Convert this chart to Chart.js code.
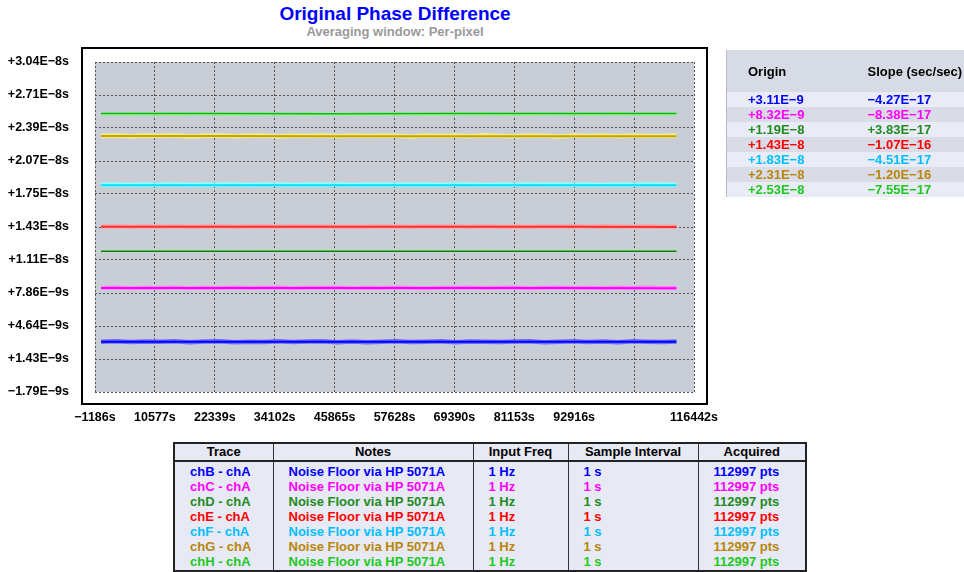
<!DOCTYPE html>
<html>
<head>
<meta charset="utf-8">
<script src="https://cdn.jsdelivr.net/npm/chart.js@4/dist/chart.umd.min.js"></script>
<style>
  body { margin: 0; background: #fff; width: 964px; height: 572px; overflow: hidden; position: relative;
         font-family: "Liberation Sans", Arial, sans-serif; font-weight: bold; font-size: 13px; }
  #title { position: absolute; left: 0; width: 790px; top: 3px; text-align: center; color: #0000ff; font-size: 19px; }
  #subtitle { position: absolute; left: 0; width: 790px; top: 24px; text-align: center; color: #999; font-size: 13px; }
  #plot { position: absolute; left: 0; top: 0; }
  #fit { position: absolute; left: 726px; top: 50px; width: 238px; border-collapse: collapse; table-layout: fixed;
         border-left: 1px solid #b8bcc6; }
  #fit td { padding: 0; height: 15px; line-height: 15px; white-space: nowrap; }
  #fit tr.head td { height: 42px; background: #d7dbe5; color: #000; }
  #fit tr:nth-child(even) td { background: #e9ecf6; }
  #fit tr:nth-child(odd):not(.head) td { background: #d9dce7; }
  #info { position: absolute; left: 173px; top: 442px; width: 632px; border-collapse: collapse; table-layout: fixed;
          background: #e7e9f4; border: 2px solid #222; }
  #info th { height: 16px; line-height: 16px; padding: 0; border: 1px solid #333; border-bottom: 2px solid #222; color: #000; font-weight: bold; }
  #info td { height: 15px; line-height: 15px; padding: 0 0 0 15px; border-left: 1px solid #333; border-right: 1px solid #333; white-space: nowrap; }
  #info tr.first td { padding-top: 2px; }
  #info tr.last td { padding-bottom: 1px; }
</style>
</head>
<body>
<div id="title">Original Phase Difference</div>
<div id="subtitle">Averaging window: Per-pixel</div>
<canvas id="plot" width="790" height="440"></canvas>
<table id="fit"></table>
<table id="info"></table>

<script>
// trace names and colours
const traces = ['chB - chA', 'chC - chA', 'chD - chA', 'chE - chA', 'chF - chA', 'chG - chA', 'chH - chA'];
const textColors = ['#0000ff', '#ff00ff', '#228b22', '#ff0000', '#00bfff', '#b8860b', '#1ec81e'];
const lineColors = ['#0000ff', '#ff00ff', '#117a11', '#ff3030', '#00e0ff', '#c8a000', '#00c000'];
const fuzzColors = ['#6a6aff', '#ff80ff', '#b6e4b6', '#ff9c9c', '#90ffff', '#f2ee86', '#9af09a'];
const fuzzWidths = [4.5, 4, 3, 4, 4.5, 4.5, 3];
const lineWidths = [2, 2, 1.5, 2, 2, 2, 1.5];

// fit table
const origins = ['+3.11E−9', '+8.32E−9', '+1.19E−8', '+1.43E−8', '+1.83E−8', '+2.31E−8', '+2.53E−8'];
const slopes = ['−4.27E−17', '−8.38E−17', '+3.83E−17', '−1.07E−16', '−4.51E−17', '−1.20E−16', '−7.55E−17'];

// bottom table
const notes = 'Noise Floor via HP 5071A';
const inputFreq = '1 Hz';
const sampleInterval = '1 s';
const acquired = '112997 pts';

// axes (y values in ns)
const xTickValues = [-1186, 10577, 22339, 34102, 45865, 57628, 69390, 81153, 92916, 104679, 116442];
const xTickLabels = ['−1186s', '10577s', '22339s', '34102s', '45865s', '57628s', '69390s', '81153s', '92916s', '', '116442s'];
const yTickValues = [-1.79, 1.429, 4.648, 7.867, 11.086, 14.305, 17.524, 20.743, 23.962, 27.181, 30.40];
const yTickLabels = ['−1.79E−9s', '+1.43E−9s', '+4.64E−9s', '+7.86E−9s', '+1.11E−8s', '+1.43E−8s',
                     '+1.75E−8s', '+2.07E−8s', '+2.39E−8s', '+2.71E−8s', '+3.04E−8s'];

// per-pixel average line (ns)
const meanTimes = [0, 22600, 45200, 67800, 90400, 112996];
const meanB = [3.12, 3.12, 3.11, 3.12, 3.11, 3.11];
const meanC = [8.36, 8.35, 8.36, 8.35, 8.35, 8.34];
const meanD = [11.93, 11.93, 11.94, 11.94, 11.94, 11.94];
const meanE = [14.33, 14.33, 14.32, 14.32, 14.32, 14.31];
const meanF = [18.38, 18.38, 18.37, 18.38, 18.37, 18.37];
const meanG = [23.17, 23.17, 23.16, 23.16, 23.16, 23.15];
const meanH = [25.38, 25.38, 25.36, 25.37, 25.37, 25.37];

// per-pixel spread (ns)
const fuzzTimes = [0, 2900, 5800, 8700, 11600, 14500, 17400, 20300, 23200, 26100, 29000, 31900, 34800, 37700,
  40600, 43500, 46400, 49300, 52200, 55100, 58000, 60900, 63800, 66700, 69600, 72500, 75400, 78300, 81200,
  84100, 87000, 89900, 92800, 95700, 98600, 101500, 104400, 107300, 110200, 112996];
const fuzzB = [3.11, 3.16, 3.08, 3.14, 3.10, 3.17, 3.07, 3.13, 3.15, 3.06, 3.12, 3.09, 3.16, 3.08, 3.13, 3.15, 3.07, 3.14, 3.06, 3.12,
  3.16, 3.09, 3.11, 3.15, 3.07, 3.14, 3.10, 3.08, 3.13, 3.17, 3.07, 3.12, 3.15, 3.09, 3.14, 3.07, 3.16, 3.11, 3.08, 3.14];
const fuzzC = [8.36, 8.40, 8.34, 8.39, 8.35, 8.41, 8.33, 8.38, 8.36, 8.40, 8.35, 8.38, 8.40, 8.34, 8.39, 8.37, 8.41, 8.34, 8.38, 8.35,
  8.40, 8.36, 8.33, 8.39, 8.37, 8.41, 8.35, 8.37, 8.40, 8.34, 8.38, 8.41, 8.35, 8.38, 8.33, 8.40, 8.36, 8.41, 8.35, 8.38];
const fuzzD = [11.99, 12.02, 11.98, 12.01, 11.99, 12.03, 11.98, 12.01, 12.02, 11.97, 12.00, 12.03, 11.98, 12.01, 11.99, 12.03, 11.97, 12.01, 11.99, 12.02,
  12.00, 11.98, 12.03, 11.99, 12.02, 11.97, 12.03, 12.00, 11.98, 12.02, 11.98, 12.01, 12.03, 11.99, 12.02, 11.99, 12.03, 11.98, 12.01, 12.00];
const fuzzE = [14.35, 14.38, 14.33, 14.37, 14.34, 14.39, 14.32, 14.36, 14.38, 14.33, 14.36, 14.39, 14.33, 14.37, 14.35, 14.38, 14.32, 14.36, 14.34, 14.38,
  14.36, 14.33, 14.39, 14.35, 14.37, 14.33, 14.38, 14.34, 14.36, 14.32, 14.38, 14.35, 14.39, 14.33, 14.37, 14.36, 14.33, 14.38, 14.34, 14.36];
const fuzzF = [18.43, 18.46, 18.41, 18.45, 18.42, 18.47, 18.41, 18.45, 18.43, 18.47, 18.40, 18.44, 18.46, 18.41, 18.45, 18.43, 18.47, 18.41, 18.45, 18.43,
  18.46, 18.42, 18.45, 18.40, 18.47, 18.44, 18.41, 18.46, 18.43, 18.47, 18.42, 18.45, 18.43, 18.46, 18.40, 18.45, 18.43, 18.47, 18.44, 18.42];
const fuzzG = [23.19, 23.24, 23.15, 23.22, 23.18, 23.25, 23.14, 23.21, 23.23, 23.16, 23.20, 23.24, 23.14, 23.22, 23.18, 23.25, 23.15, 23.22, 23.17, 23.23,
  23.20, 23.14, 23.24, 23.18, 23.22, 23.15, 23.25, 23.19, 23.16, 23.23, 23.21, 23.14, 23.24, 23.18, 23.22, 23.15, 23.23, 23.19, 23.17, 23.22];
const fuzzH = [25.33, 25.30, 25.35, 25.31, 25.34, 25.29, 25.32, 25.35, 25.30, 25.33, 25.29, 25.34, 25.31, 25.29, 25.33, 25.30, 25.27, 25.28, 25.29, 25.32,
  25.34, 25.30, 25.33, 25.29, 25.35, 25.31, 25.34, 25.30, 25.33, 25.29, 25.35, 25.31, 25.34, 25.29, 25.32, 25.35, 25.30, 25.33, 25.31, 25.34];

const means = [meanB, meanC, meanD, meanE, meanF, meanG, meanH];
const fuzzes = [fuzzB, fuzzC, fuzzD, fuzzE, fuzzF, fuzzG, fuzzH];

function pairs(times, vals) {
  return vals.map((v, i) => ({ x: times[i], y: v }));
}

const datasets = [];
traces.forEach((name, i) => {
  datasets.push({
    label: name, data: pairs(meanTimes, means[i]), order: 0,
    borderColor: lineColors[i], borderWidth: lineWidths[i], pointRadius: 0
  });
  datasets.push({
    label: name + ' spread', data: pairs(fuzzTimes, fuzzes[i]), order: 1,
    borderColor: fuzzColors[i], borderWidth: fuzzWidths[i], pointRadius: 0
  });
});

// white frame + gray plot area
const framePlugin = {
  id: 'frame',
  beforeDraw(chart) {
    const { ctx, chartArea: a } = chart;
    ctx.save();
    const l = a.left - 14, t = a.top - 15, r = a.right + 14, b = a.bottom + 13;
    ctx.fillStyle = '#fff';
    ctx.fillRect(l, t, r - l, b - t);
    ctx.strokeStyle = '#000';
    ctx.lineWidth = 2;
    ctx.strokeRect(l + 1, t + 1, r - l - 2, b - t - 2);
    ctx.fillStyle = '#c9cdd6';
    ctx.fillRect(a.left, a.top, a.right - a.left, a.bottom - a.top);
    ctx.restore();
  }
};

Chart.defaults.font.family = '"Liberation Sans", Arial, sans-serif';

new Chart(document.getElementById('plot'), {
  type: 'line',
  data: { datasets },
  plugins: [framePlugin],
  options: {
    responsive: false,
    animation: false,
    devicePixelRatio: 1,
    layout: { padding: { top: 62, right: 96, bottom: 18, left: 0 } },
    plugins: { legend: { display: false }, tooltip: { enabled: false } },
    elements: { line: { tension: 0 } },
    scales: {
      x: {
        type: 'linear', min: -1186, max: 116442,
        afterBuildTicks: s => { s.ticks = xTickValues.map(v => ({ value: v })); },
        afterFit: s => { s.height = 30; },
        ticks: {
          autoSkip: false, maxRotation: 0, padding: 18, color: '#000',
          font: { size: 12.5, weight: 'bold' },
          callback: (v, i) => xTickLabels[i]
        },
        grid: { color: '#555', lineWidth: 1, drawTicks: false },
        border: { display: false, dash: [2, 2] }
      },
      y: {
        type: 'linear', min: -1.79, max: 30.40,
        afterBuildTicks: s => { s.ticks = yTickValues.map(v => ({ value: v })); },
        afterFit: s => { s.width = 95; },
        ticks: {
          padding: 26, color: '#000',
          font: { size: 12.5, weight: 'bold' },
          callback: (v, i) => yTickLabels[i]
        },
        grid: { color: '#555', lineWidth: 1, drawTicks: false },
        border: { display: false, dash: [2, 2] }
      }
    }
  }
});

// fit table
let fitHtml = '<col style="width:141px"><col style="width:97px">';
fitHtml += '<tr class="head"><td style="padding-left:21px">Origin</td><td>Slope (sec/sec)</td></tr>';
traces.forEach((t, i) => {
  fitHtml += `<tr><td style="padding-left:21px;color:${textColors[i]}">${origins[i]}</td>` +
             `<td style="color:${textColors[i]}">${slopes[i]}</td></tr>`;
});
document.getElementById('fit').innerHTML = fitHtml;

// info table
let infoHtml = '<col style="width:99px"><col style="width:200px"><col style="width:95px"><col style="width:130px"><col style="width:108px">';
infoHtml += '<tr><th>Trace</th><th>Notes</th><th>Input Freq</th><th>Sample Interval</th><th>Acquired</th></tr>';
traces.forEach((t, i) => {
  const cls = i === 0 ? 'first' : (i === traces.length - 1 ? 'last' : '');
  const c = textColors[i];
  infoHtml += `<tr class="${cls}" style="color:${c}"><td>${t}</td><td>${notes}</td><td>${inputFreq}</td>` +
              `<td>${sampleInterval}</td><td>${acquired}</td></tr>`;
});
document.getElementById('info').innerHTML = infoHtml;
</script>
</body>
</html>
